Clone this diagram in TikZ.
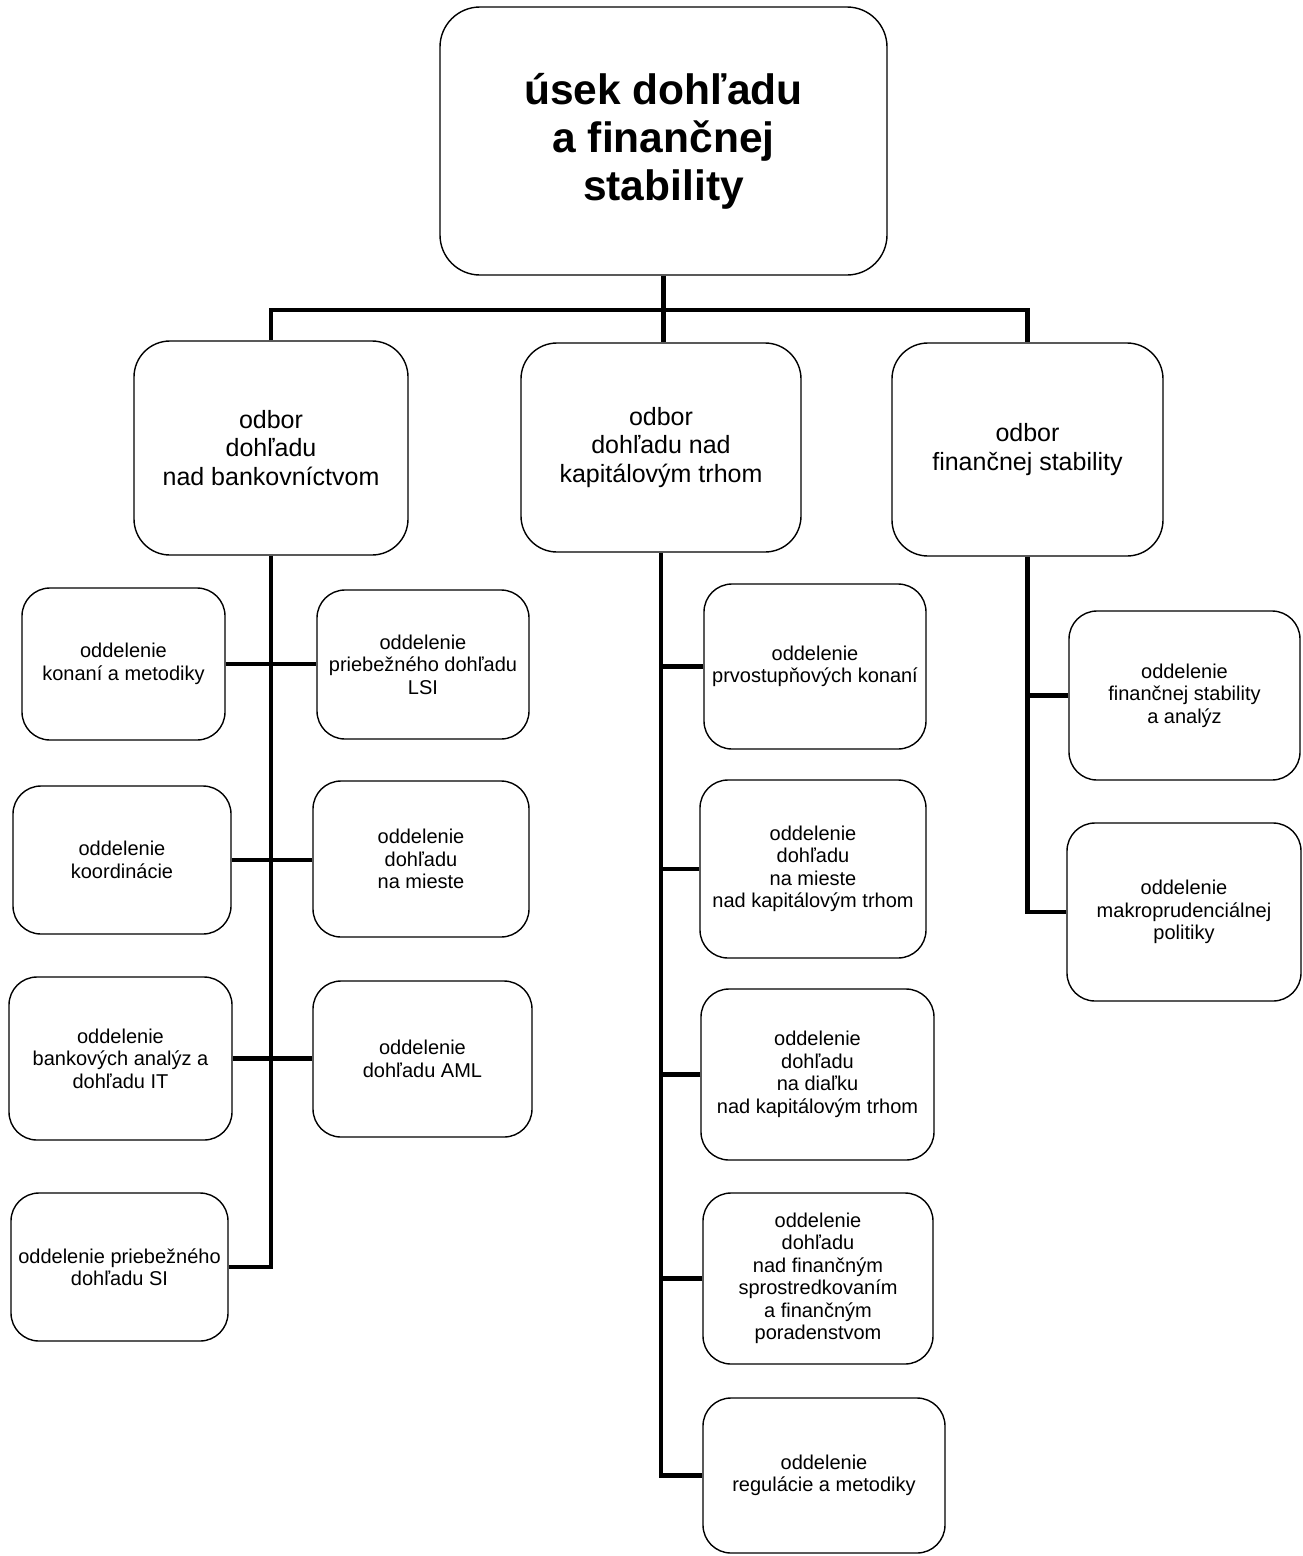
\documentclass[tikz,border=0pt]{standalone}
\usepackage{fontspec}
\setmainfont{Liberation Sans}
\usepackage{tikz}

\begin{document}
\begin{tikzpicture}[x=1pt, y=-1pt,
    head/.style={rectangle, rounded corners=40pt, align=center, draw=black, line width=1.4pt, font=\bfseries\fontsize{42.5}{48}\selectfont},
    odbor/.style={rectangle, rounded corners=36pt, align=center, draw=black, line width=1.4pt, font=\fontsize{25}{28.5}\selectfont},
    odd/.style={rectangle, rounded corners=28pt, align=center, draw=black, line width=1.4pt, font=\fontsize{20}{22.5}\selectfont},
    conn/.style={line width=4.3pt}
]
\useasboundingbox (0,0) rectangle (1302,1556);

% Top unit
\node[head, minimum width=447pt, minimum height=268pt] (usek) at (663.5,141) {\rule{0pt}{12pt}úsek dohľadu\\a finančnej\\stability};

% Departments
\node[odbor, minimum width=274pt, minimum height=214pt] (odbor1) at (271,448) {odbor\\dohľadu\\nad bankovníctvom};
\node[odbor, minimum width=280pt, minimum height=209pt] (odbor2) at (661,447.5) {odbor\\dohľadu nad\\kapitálovým trhom};
\node[odbor, minimum width=271pt, minimum height=213pt] (odbor3) at (1027.5,449.5) {odbor\\finančnej stability};

% Sections under banking supervision
\node[odd, minimum width=203pt, minimum height=152pt] (odd11) at (123.5,664) {oddelenie\\konaní a metodiky};
\node[odd, minimum width=218pt, minimum height=148pt] (odd12) at (122,860) {oddelenie\\koordinácie};
\node[odd, minimum width=223pt, minimum height=163pt] (odd13) at (120.5,1058.5) {oddelenie\\bankových analýz a\\dohľadu IT};
\node[odd, minimum width=217pt, minimum height=148pt] (odd14) at (119.5,1267) {oddelenie priebežného\\dohľadu SI};
\node[odd, minimum width=212pt, minimum height=149pt] (odd15) at (423,664.5) {oddelenie\\priebežného dohľadu\\LSI};
\node[odd, minimum width=216pt, minimum height=156pt] (odd16) at (421,859) {oddelenie\\dohľadu\\na mieste};
\node[odd, minimum width=219pt, minimum height=156pt] (odd17) at (422.5,1059) {oddelenie\\dohľadu AML};

% Sections under capital market supervision
\node[odd, minimum width=222pt, minimum height=165pt] (odd21) at (815,666.5) {oddelenie\\prvostupňových konaní};
\node[odd, minimum width=226pt, minimum height=178pt] (odd22) at (813,869) {oddelenie\\dohľadu\\na mieste\\nad kapitálovým trhom};
\node[odd, minimum width=233pt, minimum height=171pt] (odd23) at (817.5,1074.5) {oddelenie\\dohľadu\\na diaľku\\nad kapitálovým trhom};
\node[odd, minimum width=230pt, minimum height=171pt] (odd24) at (818,1278.5) {oddelenie\\dohľadu\\nad finančným\\sprostredkovaním\\a finančným\\poradenstvom};
\node[odd, minimum width=242pt, minimum height=155pt] (odd25) at (824,1475.5) {oddelenie\\regulácie a metodiky};

% Sections under financial stability
\node[odd, minimum width=231pt, minimum height=169pt] (odd31) at (1184.5,695.5) {oddelenie\\finančnej stability\\a analýz};
\node[odd, minimum width=234pt, minimum height=178pt] (odd32) at (1184,912) {oddelenie\\makroprudenciálnej\\politiky};

% Top level lines
\coordinate (bus) at (663.5,310);
\draw[conn] (usek.south) -- (usek.south |- odbor2.north);
\draw[conn] (odbor1.north) |- (bus) -| (odbor3.north);

% Banking supervision lines
\draw[conn] (odbor1.south) |- (odd14.east);
\draw[conn] (odd11.east) -- (odd11.east -| odd15.west);
\draw[conn] (odd12.east) -- (odd12.east -| odd16.west);
\draw[conn] (odd13.east) -- (odd13.east -| odd17.west);

% Capital market lines
\draw[conn] (odbor2.south) |- (odd25.west);
\draw[conn] (odd21.west) -- (odd21.west -| odbor2.south);
\draw[conn] (odd22.west) -- (odd22.west -| odbor2.south);
\draw[conn] (odd23.west) -- (odd23.west -| odbor2.south);
\draw[conn] (odd24.west) -- (odd24.west -| odbor2.south);

% Financial stability lines
\draw[conn] (odbor3.south) |- (odd32.west);
\draw[conn] (odd31.west) -- (odd31.west -| odbor3.south);

\end{tikzpicture}
\end{document}
